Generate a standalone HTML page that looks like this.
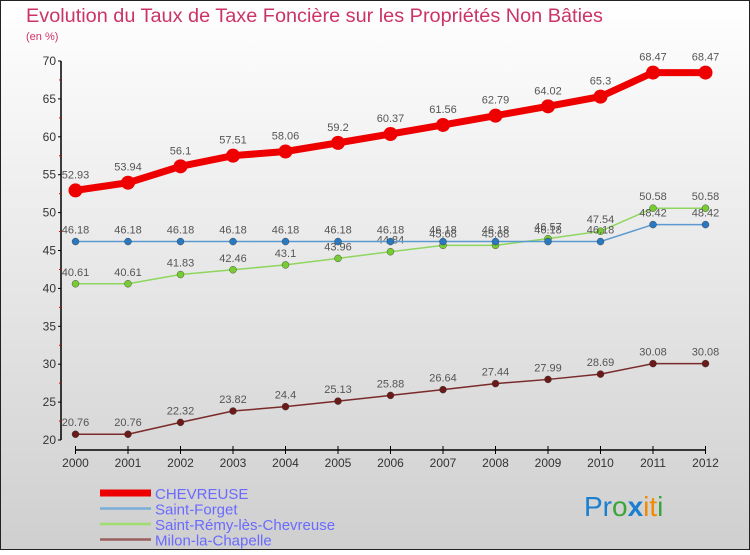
<!DOCTYPE html>
<html><head><meta charset="utf-8"><style>
body{margin:0;width:750px;height:550px;overflow:hidden;font-family:"Liberation Sans",sans-serif}
</style></head><body>
<svg width="750" height="550" xmlns="http://www.w3.org/2000/svg">
<defs><linearGradient id="bg" x1="0" y1="0" x2="0" y2="1"><stop offset="0" stop-color="#ffffff"/><stop offset="1" stop-color="#cfcfcf"/></linearGradient></defs>
<rect x="0.5" y="0.5" width="749" height="549" fill="url(#bg)" stroke="#222"/>
<text x="26" y="22" font-size="19" fill="#cc3366" textLength="577" lengthAdjust="spacingAndGlyphs">Evolution du Taux de Taxe Foncière sur les Propriétés Non Bâties</text>
<text x="26" y="40" font-size="11" fill="#cc3366">(en %)</text>
<g id="axes"></g>
<g id="series"></g>
<g id="legend"></g>
<text x="584" y="516" font-size="28"><tspan fill="#1a7fd0">Pr</tspan><tspan fill="#3aa53a">o</tspan><tspan fill="#1a7fd0" font-weight="bold">x</tspan><tspan fill="#f08a00">it</tspan><tspan fill="#3aa53a">i</tspan></text>
</svg>
<script>
const years=[2000,2001,2002,2003,2004,2005,2006,2007,2008,2009,2010,2011,2012];
const yTicks=[20,25,30,35,40,45,50,55,60,65,70];
const seriesNames=["CHEVREUSE","Saint-Forget","Saint-Rémy-lès-Chevreuse","Milon-la-Chapelle"];
const chevreuse=[52.93,53.94,56.1,57.51,58.06,59.2,60.37,61.56,62.79,64.02,65.3,68.47,68.47];
const saintForget=[46.18,46.18,46.18,46.18,46.18,46.18,46.18,46.18,46.18,46.18,46.18,48.42,48.42];
const saintRemy=[40.61,40.61,41.83,42.46,43.1,43.96,44.84,45.68,45.68,46.57,47.54,50.58,50.58];
const milon=[20.76,20.76,22.32,23.82,24.4,25.13,25.88,26.64,27.44,27.99,28.69,30.08,30.08];
const NS="http://www.w3.org/2000/svg";
const x=i=>75.5+i*(705.5-75.5)/(years.length-1);
const y=v=>440-(v-20)*(440-61)/50;
function mk(tag,attrs,parent){const e=document.createElementNS(NS,tag);for(const k in attrs)e.setAttribute(k,attrs[k]);parent.appendChild(e);return e;}
const axes=document.getElementById('axes');
let a=mk('line',{x1:61,y1:y(70),x2:61,y2:440,stroke:'#000','stroke-width':1.5},axes);


yTicks.forEach(t=>{
 let l=mk('line',{x1:58,y1:y(t),x2:61,y2:y(t),stroke:'#000'},axes);
 
 
 let tx=mk('text',{x:56,y:y(t)+4,'font-size':12,fill:'#333','text-anchor':'end'},axes);tx.textContent=t;
 
 
 if(t<70){let m=mk('line',{x1:59,y1:y(t+2.5),x2:61,y2:y(t+2.5),stroke:'#d00'},axes);
 
 }
});
a=mk('line',{x1:75,y1:450,x2:706,y2:450,stroke:'#000','stroke-width':1.5},axes);


years.forEach((yr,i)=>{
 let l=mk('line',{x1:x(i),y1:446,x2:x(i),y2:454,stroke:'#000'},axes);
 
 
 let tx=mk('text',{x:x(i),y:467,'font-size':12,fill:'#333','text-anchor':'middle'},axes);tx.textContent=yr;
 
 
});
const g=document.getElementById('series');
const defs=[[milon,'#7a2a2a','#6b1a1a',1.5,3.5],[saintRemy,'#8fd65f','#77cc33',1.5,3.5],[saintForget,'#5a9ad0','#2a78c0',1.5,3.5],[chevreuse,'#ee0000','#ee0000',7,7]];
const keys=['milon','saint-remy','saint-forget','chevreuse'];
defs.forEach(([vals,lc,pc,w,r],si)=>{
 let p=mk('polyline',{points:vals.map((v,i)=>x(i)+','+y(v)).join(' '),fill:'none',stroke:lc,'stroke-width':w,'stroke-linejoin':'round'},g);
 
 
 vals.forEach((v,i)=>{
  let c=mk('circle',{cx:x(i),cy:y(v),r:r,fill:pc,stroke:si==3?'none':'#333','stroke-width':0.4},g);
  
  
  let t=mk('text',{x:x(i),y:y(v)-(si==3?12:8),'font-size':11,fill:'#555','text-anchor':'middle'},g);t.textContent=v;
  
  
 });
});
const lg=document.getElementById('legend');
const lcol=['#ee0000','#7aaed8','#a0dc70','#9a6060'],lw=[7,2.5,2.5,2.5];
seriesNames.forEach((n,i)=>{
 const yy=493+i*15.5;
 let l=mk('line',{x1:100,y1:yy,x2:151,y2:yy,stroke:lcol[i],'stroke-width':lw[i]},lg);
 
 
 let t=mk('text',{x:155,y:yy+6,'font-size':15,fill:'#6a6aff'},lg);t.textContent=n;
 
 
});
</script>
</body></html>
